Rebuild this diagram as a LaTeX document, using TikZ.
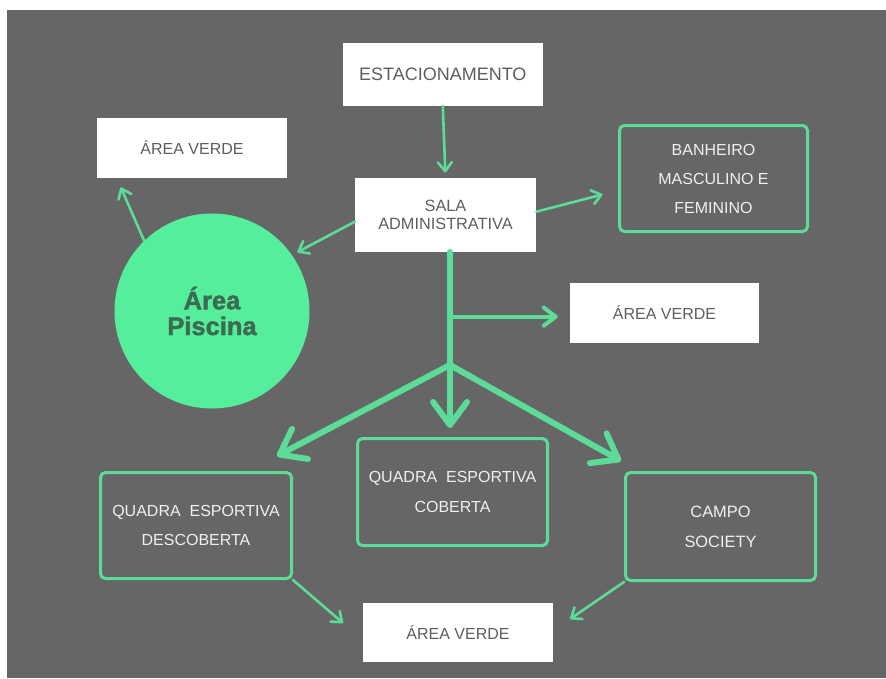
\documentclass[tikz,border=0pt]{standalone}
\usepackage{fontspec}
\setmainfont{Liberation Sans}
\newfontfamily\poolfont{Liberation Sans}[BoldFeatures={FakeBold=1.6}]
\usetikzlibrary{arrows.meta,calc}
\definecolor{bg}{HTML}{666666}
\definecolor{grn}{HTML}{5CDC98}
\definecolor{poolc}{HTML}{55EE9C}
\definecolor{pooltxt}{HTML}{3D6B52}
\definecolor{boxtxt}{HTML}{5E5E5E}
\definecolor{lighttxt}{HTML}{F0F0F0}
\begin{document}
\begin{tikzpicture}[x=1pt,y=-1pt,
  wbox/.style={fill=white, text=boxtxt, inner sep=0pt, align=center},
  gbox/.style={draw=grn, line width=3pt, rounded corners=5pt, fill=bg, text=lighttxt, inner sep=0pt, align=center},
  conn/.style={draw=grn, line width=2.6pt, line cap=round, -{Straight Barb[length=9pt,width=14pt,round]}},
  midconn/.style={draw=grn, line width=4pt, line cap=round, -{Straight Barb[length=12pt,width=18pt,round]}},
  bigconn/.style={draw=grn, line width=6pt, line cap=round, -{Straight Barb[length=23pt,width=34pt,round]}},
  stemline/.style={draw=grn, line width=6pt, line cap=round}
]
\fill[white] (0,0) rectangle (886,678);
\useasboundingbox (0,0) rectangle (886,678);
\fill[bg] (7,10) rectangle (886,678);

% nodes
\node[wbox, minimum width=200pt, minimum height=63pt, font=\fontsize{18}{22}\selectfont] (estac) at (442.8,74.3) {ESTACIONAMENTO};
\node[wbox, minimum width=181pt, minimum height=74pt, font=\fontsize{16.3}{18.5}\selectfont] (sala) at (445.5,214.7) {SALA\\ADMINISTRATIVA};
\node[wbox, minimum width=190pt, minimum height=60pt, font=\fontsize{16}{19}\selectfont] (av1) at (192,148) {ÁREA VERDE};
\node[gbox, minimum width=188pt, minimum height=106pt, font=\fontsize{16}{29}\selectfont] (banh) at (713.5,178.5) {BANHEIRO\\MASCULINO E\\FEMININO};
\node[wbox, minimum width=189pt, minimum height=60pt, font=\fontsize{16}{19}\selectfont] (av2) at (664.5,313) {ÁREA VERDE};
\node[circle, fill=poolc, minimum size=195pt, inner sep=0pt, text=pooltxt, align=center, font=\poolfont\bfseries\fontsize{25.5}{25.7}\selectfont] (pool) at (212,311) {Área\\Piscina};
\node[gbox, minimum width=191pt, minimum height=106pt, font=\fontsize{16}{29}\selectfont] (desc) at (196,525.5) {QUADRA~~ESPORTIVA\\DESCOBERTA};
\node[gbox, minimum width=190pt, minimum height=107pt, font=\fontsize{16}{29.5}\selectfont] (cob) at (452.5,492) {QUADRA~~ESPORTIVA\\COBERTA};
\node[gbox, minimum width=190pt, minimum height=108pt, font=\fontsize{16.4}{30}\selectfont] (campo) at (720.5,526.5) {CAMPO\\SOCIETY};
\node[wbox, minimum width=190pt, minimum height=59pt, font=\fontsize{16}{19}\selectfont] (av3) at (458,632.5) {ÁREA VERDE};

% helper coordinates
\coordinate (j) at (450,365);
\coordinate (br) at (450,316.7);
\coordinate (tdesc) at (277,456);
\coordinate (tcampo) at (621,461);
\coordinate (tav3a) at (343,623);
\coordinate (tav3b) at (570,619);

% connectors
\draw[conn, shorten >=5pt] (estac.south) -- (sala.north);
\draw[conn, shorten >=6pt] ($(sala.west)+(0,7)$) -- (pool.35);
\draw[conn, shorten >=16pt] ($(sala.east)+(0,-3)$) -- ($(banh.west)+(0,12)$);
\draw[conn, shorten >=10pt] (pool.134) -- ($(av1.south west)+(20,0)$);
\draw[stemline] (sala.south -| j) -- (j);
\draw[midconn, shorten >=12pt] (br) -- (br -| av2.west);
\draw[bigconn, shorten >=9pt] (j) -- (j |- cob.north);
\draw[bigconn] (j) -- (tdesc);
\draw[bigconn] (j) -- (tcampo);
\draw[conn] (desc.south east) -- (tav3a);
\draw[conn] (campo.south west) -- (tav3b);
\end{tikzpicture}
\end{document}
